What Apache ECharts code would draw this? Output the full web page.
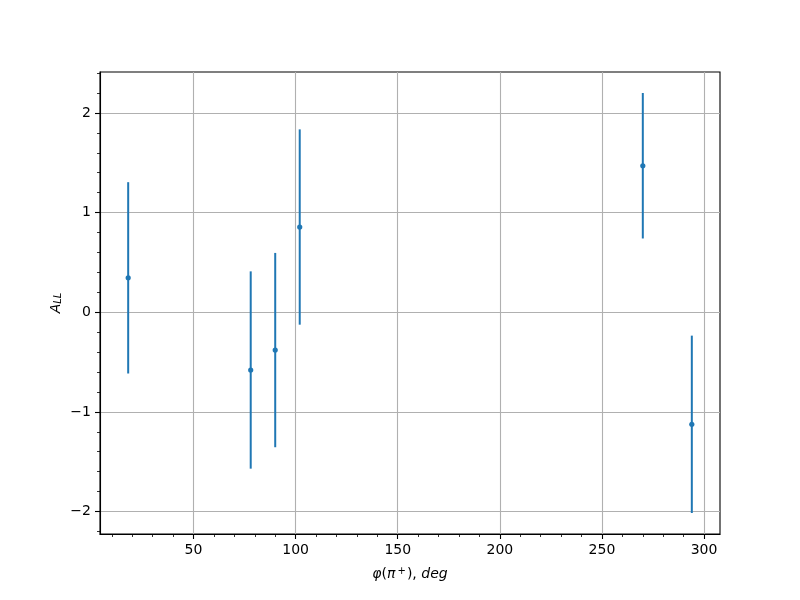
<!DOCTYPE html>
<html><head><meta charset="utf-8">
<script src="https://cdn.jsdelivr.net/npm/echarts@6/dist/echarts.min.js"></script>
<style>html,body{margin:0;padding:0;background:#fff}#c{width:800px;height:600px}</style>
</head><body><div id="c"></div>
<script>
const phiDeg = [18, 78, 90, 102, 270, 294];
const allValues = [0.345, -0.58, -0.38, 0.855, 1.47, -1.125];
const allErrors = [0.96, 0.99, 0.975, 0.98, 0.73, 0.89];
const xTickLabels = [50, 100, 150, 200, 250, 300];
const yTickLabels = [-2, -1, 0, 1, 2];

// matplotlib-like 5% margins
const xLo = Math.min(...phiDeg), xHi = Math.max(...phiDeg);
const yLo = Math.min(...allValues.map((v, i) => v - allErrors[i]));
const yHi = Math.max(...allValues.map((v, i) => v + allErrors[i]));
const xMin = xLo - 0.05 * (xHi - xLo), xMax = xHi + 0.05 * (xHi - xLo);
const yMin = yLo - 0.05 * (yHi - yLo), yMax = yHi + 0.05 * (yHi - yLo);

const xMinor = [];
for (let v = 10; v <= xMax; v += 10) if (v >= xMin && v % 50 !== 0) xMinor.push(v);
const yMinor = [];
for (let k = -20; k <= 20; k++) { const v = k * 0.2; if (v >= yMin && v <= yMax && k % 5 !== 0) yMinor.push(+v.toFixed(1)); }

const FONT = 'DejaVu Sans';
const data = phiDeg.map((x, i) => [x, allValues[i], allErrors[i]]);
const chart = echarts.init(document.getElementById('c'), null, { renderer: 'canvas' });
chart.setOption({
  animation: false,
  backgroundColor: '#fff',
  grid: { left: 100, right: 80, top: 72, bottom: 66, show: true, borderColor: '#000', borderWidth: 1.1, backgroundColor: 'transparent' },
  xAxis: [
    {
      type: 'value', min: xMin, max: xMax, position: 'bottom',
      axisLine: { show: true, onZero: false, lineStyle: { color: '#000', width: 1.1 } },
      axisTick: { show: true, length: 5, lineStyle: { color: '#000', width: 1.1 }, customValues: xTickLabels },
      axisLabel: { customValues: xTickLabels, margin: 9, color: '#000', fontFamily: FONT, fontSize: 14 },
      splitLine: { show: true, lineStyle: { color: '#b0b0b0', width: 1.1 } }
    },
    {
      type: 'value', min: xMin, max: xMax, position: 'bottom',
      axisLine: { show: false, onZero: false },
      axisTick: { show: true, length: 3, lineStyle: { color: '#000', width: 0.8 }, customValues: xMinor },
      axisLabel: { show: false, customValues: xMinor },
      splitLine: { show: false }
    }
  ],
  yAxis: [
    {
      type: 'value', min: yMin, max: yMax, position: 'left',
      axisLine: { show: true, onZero: false, lineStyle: { color: '#000', width: 1.1 } },
      axisTick: { show: true, length: 5, lineStyle: { color: '#000', width: 1.1 }, customValues: yTickLabels },
      axisLabel: { customValues: yTickLabels, margin: 9, color: '#000', fontFamily: FONT, fontSize: 14,
        formatter: v => String(v).replace('-', '\u2212') },
      splitLine: { show: true, lineStyle: { color: '#b0b0b0', width: 1.1 } }
    },
    {
      type: 'value', min: yMin, max: yMax, position: 'left',
      axisLine: { show: false, onZero: false },
      axisTick: { show: true, length: 3, lineStyle: { color: '#000', width: 0.8 }, customValues: yMinor },
      axisLabel: { show: false, customValues: yMinor },
      splitLine: { show: false }
    }
  ],
  series: [{
    type: 'custom',
    xAxisIndex: 0, yAxisIndex: 0,
    data: data,
    encode: { x: 0, y: 1 },
    renderItem: (params, api) => {
      const x = api.value(0), y = api.value(1), e = api.value(2);
      const a = api.coord([x, y - e]), b = api.coord([x, y + e]), c = api.coord([x, y]);
      return { type: 'group', children: [
        { type: 'line', shape: { x1: a[0], y1: a[1], x2: b[0], y2: b[1] }, style: { stroke: '#1f77b4', lineWidth: 2 } },
        { type: 'circle', shape: { cx: c[0], cy: c[1], r: 2.6 }, style: { fill: '#1f77b4' } }
      ]};
    }
  }],
  graphic: [
    { type: 'text', x: 410, y: 574, style: {
        text: '{i|φ}{n|(}{i|π}{s|+}{n|),}{i| deg}', align: 'center', verticalAlign: 'middle',
        rich: {
          i: { fontFamily: FONT, fontStyle: 'italic', fontSize: 14, fill: '#000' },
          n: { fontFamily: FONT, fontSize: 14, fill: '#000' },
          s: { fontFamily: FONT, fontSize: 10, fill: '#000', verticalAlign: 'top', padding: [0, 1, 6, 2] }
        } } },
    { type: 'text', x: 56, y: 303, rotation: Math.PI / 2, style: {
        text: '{i|A}{s|LL}', align: 'center', verticalAlign: 'middle',
        rich: {
          i: { fontFamily: FONT, fontStyle: 'italic', fontSize: 14, fill: '#000' },
          s: { fontFamily: FONT, fontStyle: 'italic', fontSize: 10, fill: '#000', padding: [5, 0, 0, 0] }
        } } }
  ]
});
</script></body></html>
